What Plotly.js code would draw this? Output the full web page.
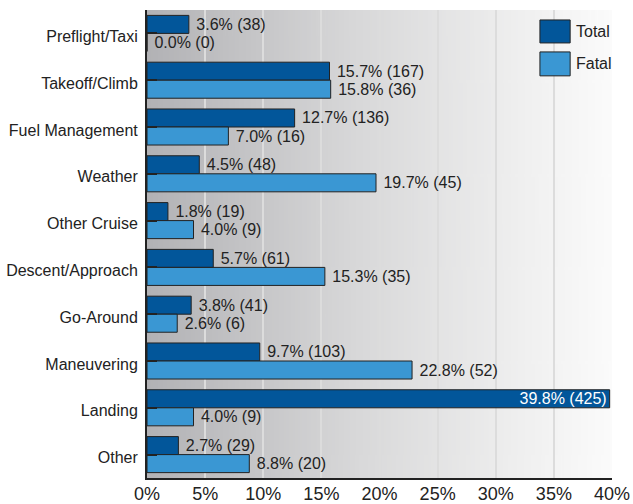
<!DOCTYPE html>
<html>
<head>
<meta charset="utf-8">
<script src="https://cdn.plot.ly/plotly-3.0.1.min.js"></script>
<style>html,body{margin:0;padding:0;background:#fff;}#chart{width:633px;height:504px;}</style>
</head>
<body>
<div id="chart"></div>
<script>
var categories = ['Preflight/Taxi','Takeoff/Climb','Fuel Management','Weather','Other Cruise','Descent/Approach','Go-Around','Maneuvering','Landing','Other'];
var totalPct = [3.6,15.7,12.7,4.5,1.8,5.7,3.8,9.7,39.8,2.7];
var totalCount = [38,167,136,48,19,61,41,103,425,29];
var fatalPct = [0.0,15.8,7.0,19.7,4.0,15.3,2.6,22.8,4.0,8.8];
var fatalCount = [0,36,16,45,9,35,6,52,9,20];
var seriesNames = ['Total','Fatal'];
var xTickVals = [0,5,10,15,20,25,30,35,40];

var FONT = '"Liberation Sans", Arial, sans-serif';
var colTotal = '#02569a';
var colFatal = '#3a97d3';

function labels(p, n){ return p.map(function(v,i){ return '\u00a0' + v.toFixed(1)+'% ('+n[i]+')'; }); }

// gradient background image
var cv = document.createElement('canvas');
cv.width = 400; cv.height = 10;
var ctx = cv.getContext('2d');
var g = ctx.createLinearGradient(0,0,400,0);
g.addColorStop(0,'#b2b2b5');
g.addColorStop(0.45,'#d8d8d9');
g.addColorStop(0.8,'#efefef');
g.addColorStop(1,'#fbfbfb');
ctx.fillStyle = g; ctx.fillRect(0,0,400,10);
var bgUrl = cv.toDataURL('image/png');

var totalPos = totalPct.map(function(v){ return v > 35 ? 'inside' : 'outside'; });

var traces = [
  {type:'bar', orientation:'h', name:seriesNames[0], y:categories, x:totalPct,
   marker:{color:colTotal, line:{color:'#222', width:1}},
   text:labels(totalPct,totalCount), textposition:totalPos, insidetextanchor:'end',
   outsidetextfont:{family:FONT, size:16, color:'#222'},
   insidetextfont:{family:FONT, size:16, color:'#ffffff'},
   constraintext:'none', cliponaxis:false, hoverinfo:'none', showlegend:false},
  {type:'bar', orientation:'h', name:seriesNames[1], y:categories, x:fatalPct,
   marker:{color:colFatal, line:{color:'#222', width:1}},
   text:labels(fatalPct,fatalCount), textposition:'outside',
   outsidetextfont:{family:FONT, size:16, color:'#222'},
   constraintext:'none', cliponaxis:false, hoverinfo:'none', showlegend:false}
];

var layout = {
  width:633, height:504,
  margin:{l:147, r:21, t:10, b:26},
  paper_bgcolor:'#ffffff', plot_bgcolor:'rgba(0,0,0,0)',
  barmode:'group', bargap:0.23, bargroupgap:0,
  font:{family:FONT, size:16, color:'#222'},
  showlegend:false,
  xaxis:{range:[0,40], tickvals:xTickVals, ticktext:xTickVals.map(function(v){return v+'%';}),
         showgrid:true, gridcolor:'#dcdcdc', gridwidth:2, zeroline:false,
         showline:true, linecolor:'#222', linewidth:2, ticks:'', automargin:false,
         ticklabelstandoff:-2,
         tickfont:{family:FONT, size:18, color:'#222'}},
  yaxis:{autorange:'reversed', showgrid:false, zeroline:false, showline:true,
         linecolor:'#222', linewidth:2, ticks:'inside', ticklen:10, tickwidth:2, tickcolor:'#222',
         automargin:false, ticklabelstandoff:4, ticklabelshift:-3,
         tickfont:{family:FONT, size:16, color:'#222'}},
  images:[{source:bgUrl, xref:'paper', yref:'paper', x:0, y:1, sizex:1, sizey:1,
           sizing:'stretch', layer:'below', xanchor:'left', yanchor:'top'}],
  shapes:[
    {type:'rect', xref:'paper', yref:'paper', x0:0.845, x1:0.910, y0:0.9296, y1:0.9787,
     fillcolor:colTotal, line:{color:'#222', width:1}},
    {type:'rect', xref:'paper', yref:'paper', x0:0.845, x1:0.910, y0:0.8593, y1:0.9104,
     fillcolor:colFatal, line:{color:'#222', width:1}}
  ],
  annotations:[
    {xref:'paper', yref:'paper', x:0.918, y:0.954, xanchor:'left', yanchor:'middle', showarrow:false,
     text:seriesNames[0], font:{family:FONT, size:16, color:'#222'}},
    {xref:'paper', yref:'paper', x:0.918, y:0.885, xanchor:'left', yanchor:'middle', showarrow:false,
     text:seriesNames[1], font:{family:FONT, size:16, color:'#222'}}
  ]
};

Plotly.newPlot('chart', traces, layout, {displayModeBar:false, staticPlot:true});
</script>
</body>
</html>
